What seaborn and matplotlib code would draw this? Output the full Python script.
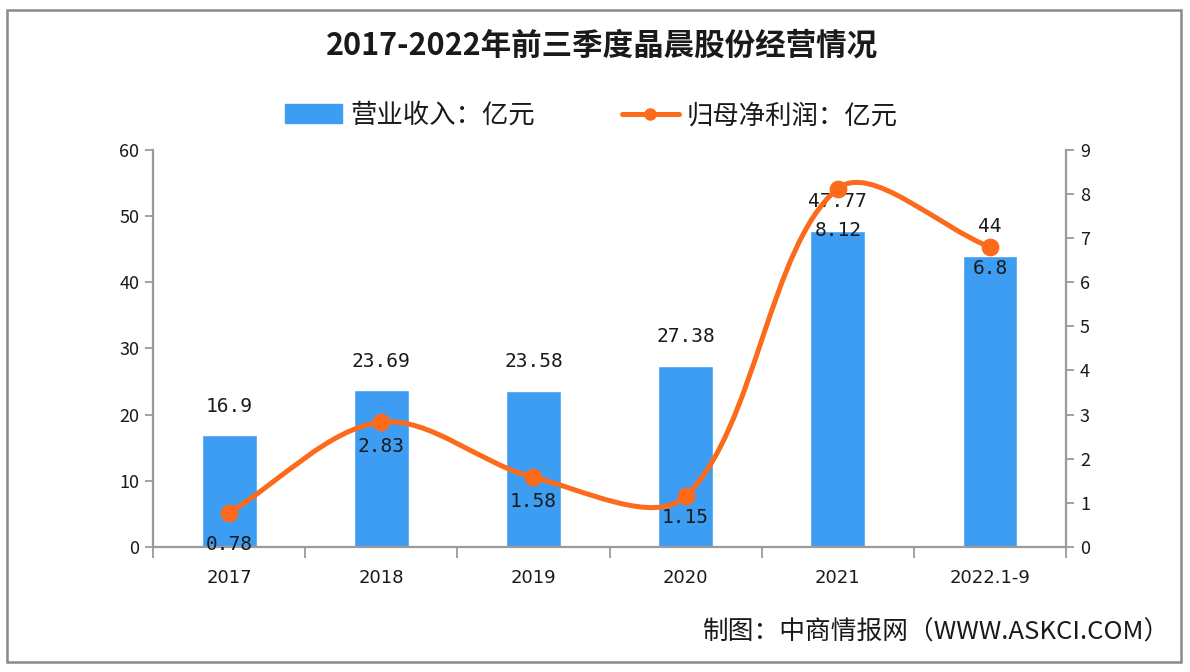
import matplotlib
matplotlib.use("Agg")
import matplotlib.pyplot as plt
from matplotlib.path import Path
from matplotlib.patches import PathPatch, Patch, Rectangle
from matplotlib.lines import Line2D
import numpy as np
import pandas as pd
import seaborn as sns

# --- data ---
years = ["2017", "2018", "2019", "2020", "2021", "2022.1-9"]
revenue = [16.9, 23.69, 23.58, 27.38, 47.77, 44]
net_profit = [0.78, 2.83, 1.58, 1.15, 8.12, 6.8]
revenue_labels = ["16.9", "23.69", "23.58", "27.38", "47.77", "44"]
profit_labels = ["0.78", "2.83", "1.58", "1.15", "8.12", "6.8"]

BAR_COLOR = "#3d9df2"
LINE_COLOR = "#fc6a1c"
AXIS_COLOR = "#9a9a9a"
TEXT_COLOR = "#1a1a1a"

sns.set_theme(style="white")
plt.rcParams["font.family"] = ["Noto Sans CJK SC", "DejaVu Sans"]

df = pd.DataFrame({"year": years, "revenue": revenue, "profit": net_profit})
df["pos"] = np.arange(len(df))

fig = plt.figure(figsize=(11.9, 6.72), dpi=100)
ax = fig.add_axes([0.1286, 0.186, 0.7672, 0.591])
ax2 = ax.twinx()

# bars on the left axis
sns.barplot(data=df, x="year", y="revenue", color=BAR_COLOR, width=0.36,
            saturation=1, ax=ax, zorder=2)
ax.set_xlim(-0.5, len(years) - 0.5)
ax.set_ylim(0, 60)
ax.set_yticks(range(0, 61, 10))
ax.set_xlabel("")
ax.set_ylabel("")

ax2.set_ylim(0, 9)
ax2.set_yticks(range(0, 10))
ax2.set_xlim(-0.5, len(years) - 0.5)

# smooth line on the right axis: cubic bezier through the points,
# tangents weighted by chord length in screen space (Excel-like smoothing)
pts = ax2.transData.transform(np.column_stack([df["pos"], df["profit"]]).astype(float))
n = len(pts)
verts = [pts[0]]
codes = [Path.MOVETO]
for i in range(n - 1):
    p0, p1 = pts[i], pts[i + 1]
    d01 = np.linalg.norm(p1 - p0)
    # outgoing tangent at p0
    if i == 0:
        c1 = p0 + (p1 - p0) / 3
    else:
        pp = pts[i - 1]
        dp = np.linalg.norm(p0 - pp)
        c1 = p0 + (p1 - pp) * d01 / (dp + d01) / 3
    # incoming tangent at p1
    if i + 2 >= n:
        c2 = p1 - (p1 - p0) / 3
    else:
        pn = pts[i + 2]
        dn = np.linalg.norm(pn - p1)
        c2 = p1 - (pn - p0) * d01 / (d01 + dn) / 3
    verts += [c1, c2, p1]
    codes += [Path.CURVE4] * 3
verts = ax2.transData.inverted().transform(np.array(verts))
ax2.add_patch(PathPatch(Path(verts, codes), fill=False, edgecolor=LINE_COLOR,
                        lw=3.6, capstyle="round", zorder=3))
sns.scatterplot(data=df, x="pos", y="profit", color=LINE_COLOR, s=140,
                edgecolor=LINE_COLOR, ax=ax2, zorder=4, legend=False)
ax2.set_ylim(0, 9)
ax2.set_xlim(-0.5, len(years) - 0.5)
ax2.set_xlabel("")
ax2.set_ylabel("")

# spines and ticks
for a in (ax, ax2):
    a.spines["top"].set_visible(False)
    for s in ("left", "right", "bottom"):
        a.spines[s].set_color(AXIS_COLOR)
        a.spines[s].set_linewidth(1.6)
ax.spines["right"].set_visible(False)
ax2.spines["left"].set_visible(False)
ax2.spines["bottom"].set_visible(False)

ax.tick_params(axis="y", direction="out", length=6, width=1.3, color=AXIS_COLOR,
               labelsize=13, labelcolor=TEXT_COLOR, left=True, pad=4)
ax2.tick_params(axis="y", direction="out", length=6, width=1.3, color=AXIS_COLOR,
                labelsize=13, labelcolor=TEXT_COLOR, right=True, pad=4)
ax.set_xticks(range(len(years)))
ax.set_xticklabels(years, fontsize=13, color=TEXT_COLOR, family="DejaVu Sans")
ax.set_xticks(np.arange(-0.5, len(years)), minor=True)
ax.tick_params(axis="x", which="major", length=0, pad=16)
ax.tick_params(axis="x", which="minor", direction="out", length=8, width=1.3,
               color=AXIS_COLOR, bottom=True)

# data labels
profit_offsets = [-32, -24, -24, -21, -42, -22]
for i, row in df.iterrows():
    ax.annotate(revenue_labels[i], (row["pos"], row["revenue"]),
                xytext=(0, 29), textcoords="offset pixels",
                ha="center", va="center", fontsize=14, color=TEXT_COLOR,
                family="DejaVu Sans Mono", zorder=5)
    ax2.annotate(profit_labels[i], (row["pos"], row["profit"]),
                 xytext=(0, profit_offsets[i]), textcoords="offset pixels",
                 ha="center", va="center", fontsize=14, color=TEXT_COLOR,
                 family="DejaVu Sans Mono", zorder=5)

# title, legend, source
fig.text(0.506, 0.932, "2017-2022年前三季度晶晨股份经营情况", ha="center",
         va="center", fontsize=22, fontweight="bold", color=TEXT_COLOR)
handles = [
    Patch(facecolor=BAR_COLOR, edgecolor=BAR_COLOR),
    Line2D([0], [0], color=LINE_COLOR, lw=3.6, marker="o", markersize=8),
]
fig.legend(handles, ["营业收入：亿元", "归母净利润：亿元"], loc="center",
           bbox_to_anchor=(0.497, 0.828), ncol=2, frameon=False, fontsize=19,
           handlelength=2.15, handleheight=0.72, columnspacing=3.3,
           handletextpad=0.3, labelcolor=TEXT_COLOR)
fig.text(0.983, 0.058, "制图：中商情报网（WWW.ASKCI.COM）", ha="right",
         va="center", fontsize=18.5, color=TEXT_COLOR)

# outer frame
fig.patches.append(Rectangle((7 / 1190, 10 / 672), 1174 / 1190, 652 / 672,
                             transform=fig.transFigure, fill=False,
                             edgecolor="#8a8a8a", lw=1.8))

fig.savefig("out.png", dpi=100, facecolor="white")
